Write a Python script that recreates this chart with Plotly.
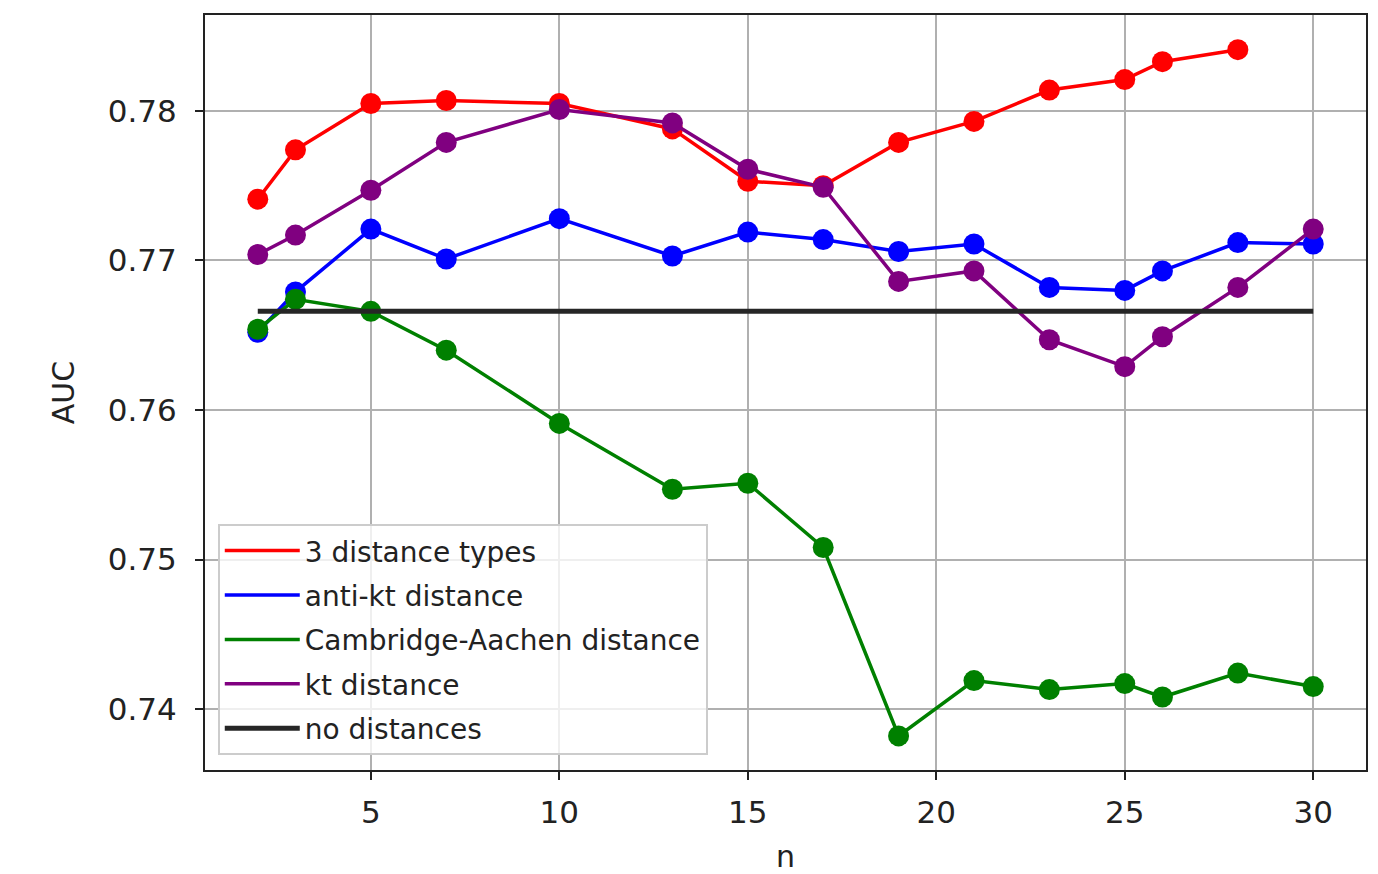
import plotly.graph_objects as go

n_values = [2, 3, 5, 7, 10, 13, 15, 17, 19, 21, 23, 25, 26, 28, 30]
n_three = [2, 3, 5, 7, 10, 13, 15, 17, 19, 21, 23, 25, 26, 28]

auc_three_types = [0.7741, 0.7774, 0.7805, 0.7807, 0.7805, 0.7788, 0.7753, 0.7750,
                   0.7779, 0.7793, 0.7814, 0.7821, 0.7833, 0.7841]
auc_anti_kt = [0.7652, 0.7679, 0.7721, 0.7701, 0.7728, 0.7703, 0.7719, 0.7714,
               0.7706, 0.7711, 0.7682, 0.7680, 0.7693, 0.7712, 0.7711]
auc_cambridge_aachen = [0.7654, 0.7674, 0.7666, 0.7640, 0.7591, 0.7547, 0.7551, 0.7508,
                        0.7382, 0.7419, 0.7413, 0.7417, 0.7408, 0.7424, 0.7415]
auc_kt = [0.7704, 0.7717, 0.7747, 0.7779, 0.7801, 0.7792, 0.7761, 0.7749,
          0.7686, 0.7693, 0.7647, 0.7629, 0.7649, 0.7682, 0.7721]
auc_no_distances = 0.7666
no_dist_x = [2, 30]

series = [
    ("3 distance types", n_three, auc_three_types, "red"),
    ("anti-kt distance", n_values, auc_anti_kt, "blue"),
    ("Cambridge-Aachen distance", n_values, auc_cambridge_aachen, "green"),
    ("kt distance", n_values, auc_kt, "purple"),
]

FONT = "DejaVu Sans"
fig = go.Figure()
for i, (name, xs, ys, color) in enumerate(series):
    fig.add_trace(go.Scatter(x=xs, y=ys, mode="lines", name=name, legendgroup=f"g{i}",
                             line=dict(color=color, width=3.5)))
    fig.add_trace(go.Scatter(x=xs, y=ys, mode="markers", showlegend=False,
                             marker=dict(color=color, size=21)))

fig.add_trace(go.Scatter(x=no_dist_x, y=[auc_no_distances] * len(no_dist_x),
                         mode="lines", name="no distances", legendgroup="g9",
                         line=dict(color="#262626", width=5)))

fig.update_layout(
    width=1378, height=874,
    margin=dict(l=205, r=12, t=15, b=104),
    paper_bgcolor="white", plot_bgcolor="white",
    font=dict(family=FONT, size=31, color="#222222"),
    showlegend=True,
    legend=dict(x=0.011, y=0.02, xanchor="left", yanchor="bottom",
                traceorder="grouped", tracegroupgap=5, itemwidth=75,
                bgcolor="rgba(255,255,255,0.8)", bordercolor="#cccccc", borderwidth=2,
                font=dict(family=FONT, size=28, color="#222222")),
)
fig.update_xaxes(range=[0.6, 31.4], tickvals=[5, 10, 15, 20, 25, 30],
                 showgrid=True, gridcolor="#b0b0b0", gridwidth=2,
                 showline=True, linecolor="#222222", linewidth=2, mirror=True,
                 ticks="outside", ticklen=8, tickcolor="#222222", tickwidth=2,
                 ticklabelstandoff=6, automargin=False,
                 zeroline=False,
                 title=dict(text="n", standoff=20, font=dict(size=30)))
fig.update_yaxes(range=[0.73592, 0.78642], tickvals=[0.74, 0.75, 0.76, 0.77, 0.78],
                 tickformat=".2f",
                 showgrid=True, gridcolor="#b0b0b0", gridwidth=2,
                 showline=True, linecolor="#222222", linewidth=2, mirror=True,
                 ticks="outside", ticklen=8, tickcolor="#222222", tickwidth=2,
                 ticklabelstandoff=12, automargin=False,
                 zeroline=False,
                 title=dict(text="AUC", standoff=24, font=dict(size=30)))

fig.write_html("out.html")
